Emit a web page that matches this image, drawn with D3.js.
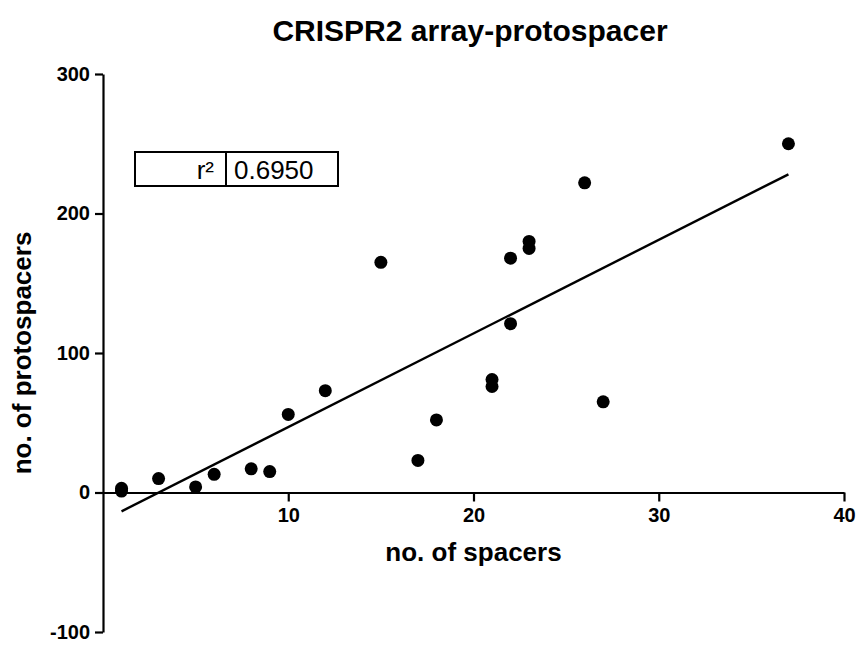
<!DOCTYPE html>
<html>
<head>
<meta charset="utf-8">
<script src="https://cdn.jsdelivr.net/npm/d3@7"></script>
<style>
  body { margin: 0; background: #fff; }
  text { font-family: "Liberation Sans", Arial, sans-serif; fill: #000; }
</style>
</head>
<body>
<svg id="chart"></svg>
<script>
// values
const spacers = [1, 1, 3, 5, 6, 8, 9, 10, 12, 15, 17, 18, 21, 21, 22, 22, 23, 23, 26, 27, 37];
const protospacers = [3, 1, 10, 4, 13, 17, 15, 56, 73, 165, 23, 52, 81, 76, 168, 121, 180, 175, 222, 65, 250];
const xTicks = [10, 20, 30, 40];
const yTicks = [-100, 0, 100, 200, 300];
const rSquaredLabel = 'r²';
const rSquaredValue = '0.6950';

const width = 860, height = 650;
const svg = d3.select('#chart').attr('width', width).attr('height', height);

const x = d3.scaleLinear().domain([0, 40]).range([103, 844]);
const y = d3.scaleLinear().domain([-100, 300]).range([632, 74]);

// title
svg.append('text')
      .attr('x', 470)
      .attr('y', 41)
      .attr('text-anchor', 'middle')
      .style('font-size', '30px')
      .style('font-weight', 'bold')
      .text('CRISPR2 array-protospacer');

// y axis
const yAxis = d3.axisLeft(y)
      .tickValues(yTicks)
      .tickFormat(d => String(d))
      .tickSize(8).tickPadding(5).tickSizeOuter(0);
const gy = svg.append('g')
      .attr('transform', `translate(${x(0)},0)`)
      .call(yAxis);
gy.select('.domain').attr('stroke-width', 2.2);
gy.selectAll('.tick line').attr('stroke-width', 2.2);
gy.selectAll('.tick text')
      .style('font-size', '20px')
      .style('font-weight', 'bold')
      .style('font-family', '"Liberation Sans", Arial, sans-serif');

// x axis along y = 0
const xAxis = d3.axisBottom(x).tickValues(xTicks).tickSize(9).tickPadding(6).tickSizeOuter(0);
const gx = svg.append('g')
      .attr('transform', `translate(0,${y(0)})`)
      .call(xAxis);
gx.select('.domain').attr('stroke-width', 2.2);
gx.selectAll('.tick line').attr('stroke-width', 2.2);
gx.selectAll('.tick text')
      .style('font-size', '20px')
      .style('font-weight', 'bold')
      .style('font-family', '"Liberation Sans", Arial, sans-serif');

// axis titles
svg.append('text')
      .attr('x', x(20))
      .attr('y', 561)
      .attr('text-anchor', 'middle')
      .style('font-size', '26px')
      .style('font-weight', 'bold')
      .text('no. of spacers');

svg.append('text')
      .attr('transform', `translate(31,${y(100)}) rotate(-90)`)
      .attr('text-anchor', 'middle')
      .style('font-size', '26px')
      .style('font-weight', 'bold')
      .text('no. of protospacers');

// least squares fit
const mx = d3.mean(spacers), my = d3.mean(protospacers);
let sxy = 0, sxx = 0;
spacers.forEach((v, i) => {
      sxy += (v - mx) * (protospacers[i] - my);
      sxx += (v - mx) * (v - mx);
});
const slope = sxy / sxx;
const intercept = my - slope * mx;
const [xmin, xmax] = d3.extent(spacers);
svg.append('line')
      .attr('x1', x(xmin)).attr('y1', y(intercept + slope * xmin))
      .attr('x2', x(xmax)).attr('y2', y(intercept + slope * xmax))
      .attr('stroke', '#000')
      .attr('stroke-width', 2.4);

// points
svg.selectAll('circle')
      .data(spacers)
      .enter()
      .append('circle')
      .attr('cx', d => x(d))
      .attr('cy', (d, i) => y(protospacers[i]))
      .attr('r', 6.5)
      .attr('fill', '#000');

// r² box
const box = svg.append('g').attr('transform', 'translate(135,152)');
box.append('rect').attr('width', 91).attr('height', 34).attr('fill', '#fff').attr('stroke', '#000').attr('stroke-width', 2);
box.append('rect').attr('x', 91).attr('width', 112).attr('height', 34).attr('fill', '#fff').attr('stroke', '#000').attr('stroke-width', 2);
box.append('text').attr('x', 79).attr('y', 27).attr('text-anchor', 'end').style('font-size', '26px').text(rSquaredLabel);
box.append('text').attr('x', 99).attr('y', 27).style('font-size', '26px').text(rSquaredValue);
</script>
</body>
</html>
